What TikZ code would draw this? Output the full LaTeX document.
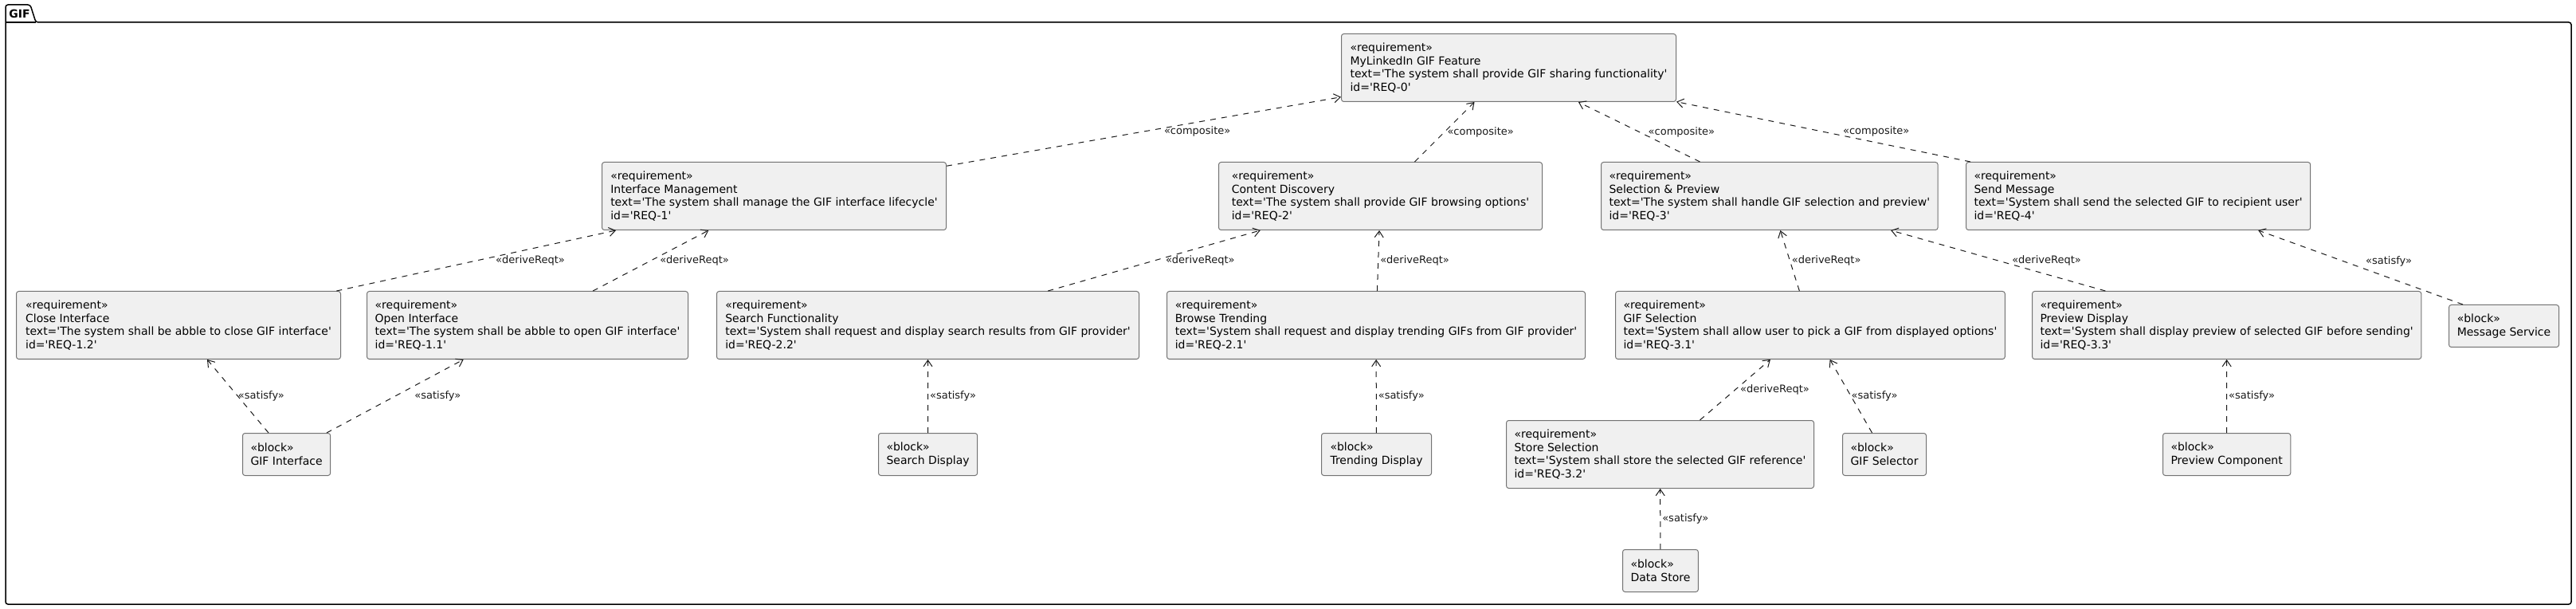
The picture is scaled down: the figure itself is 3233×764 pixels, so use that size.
\documentclass[tikz,border=0pt]{standalone}
\usepackage{fontspec}
\newfontfamily\umlfont{DejaVu Sans}
\usetikzlibrary{arrows.meta}

\begin{document}
\begin{tikzpicture}[x=0.5pt,y=-0.5pt,>={Straight Barb[length=4pt,width=5.5pt]},
	every node/.style={font=\umlfont\fontsize{7pt}{8.3pt}\selectfont},
	req/.style={draw=black!55,fill=black!6,line width=0.5pt,rounded corners=1.5pt,anchor=north west,align=left,minimum height=42.5pt,inner xsep=5pt},
	blk/.style={req,minimum height=26.5pt},
	dep/.style={->,dash pattern=on 3.5pt off 3.5pt,line width=0.5pt,black!90},
	lbl/.style={anchor=west,inner sep=0pt,font=\umlfont\fontsize{6.5pt}{7.8pt}\selectfont}]
	\useasboundingbox (0,0) rectangle (3233,764);
	
	\draw[line width=0.75pt,rounded corners=1.5pt] (7,28) -- (7,6) -- (38,6) -- (45,28) -- (3227,28) -- (3227,758) -- (7,758) -- cycle;
	\draw[line width=0.75pt] (7,28) -- (45,28);
	\node[anchor=west,inner sep=0pt,font=\umlfont\bfseries\fontsize{7pt}{8pt}\selectfont] (pkg) at (11,17) {GIF};
	
	\node[req,minimum width=210pt] (r0) at (1683,42) {«requirement»\\MyLinkedIn GIF Feature\\text='The system shall provide GIF sharing functionality'\\id='REQ-0'};
	
	\node[req,minimum width=216pt] (r1) at (755,203) {«requirement»\\Interface Management\\text='The system shall manage the GIF interface lifecycle'\\id='REQ-1'};
	\node[req,minimum width=203pt] (r2) at (1529,203) {«requirement»\\Content Discovery\\text='The system shall provide GIF browsing options'\\id='REQ-2'};
	\node[req,minimum width=211pt] (r3) at (2009,203) {«requirement»\\Selection \& Preview\\text='The system shall handle GIF selection and preview'\\id='REQ-3'};
	\node[req,minimum width=216pt] (r4) at (2467,203) {«requirement»\\Send Message\\text='System shall send the selected GIF to recipient user'\\id='REQ-4'};
	
	\node[req,minimum width=203.5pt] (r12) at (20,365) {«requirement»\\Close Interface\\text='The system shall be abble to close GIF interface'\\id='REQ-1.2'};
	\node[req,minimum width=201.5pt] (r11) at (460,365) {«requirement»\\Open Interface\\text='The system shall be abble to open GIF interface'\\id='REQ-1.1'};
	\node[req,minimum width=265pt] (r22) at (899,365) {«requirement»\\Search Functionality\\text='System shall request and display search results from GIF provider'\\id='REQ-2.2'};
	\node[req,minimum width=262.5pt] (r21) at (1464,365) {«requirement»\\Browse Trending\\text='System shall request and display trending GIFs from GIF provider'\\id='REQ-2.1'};
	\node[req,minimum width=243.5pt] (r31) at (2027,365) {«requirement»\\GIF Selection\\text='System shall allow user to pick a GIF from displayed options'\\id='REQ-3.1'};
	\node[req,minimum width=244pt] (r33) at (2550,365) {«requirement»\\Preview Display\\text='System shall display preview of selected GIF before sending'\\id='REQ-3.3'};
	\node[blk,minimum width=69pt] (bmsg) at (3073,382) {«block»\\Message Service};
	
	\node[blk,minimum width=55pt] (bgif) at (304,543) {«block»\\GIF Interface};
	\node[blk,minimum width=62pt] (bsearch) at (1102,543) {«block»\\Search Display};
	\node[blk,minimum width=69pt] (btrend) at (1658,543) {«block»\\Trending Display};
	\node[req,minimum width=193pt] (r32) at (1890,527) {«requirement»\\Store Selection\\text='System shall store the selected GIF reference'\\id='REQ-3.2'};
	\node[blk,minimum width=51.5pt] (bsel) at (2312,543) {«block»\\GIF Selector};
	\node[blk,minimum width=80pt] (bprev) at (2714,543) {«block»\\Preview Component};
	\node[blk,minimum width=47pt] (bstore) at (2036,689) {«block»\\Data Store};
	
	\draw[dep] (r1) -- node[lbl,xshift=12.5pt] {«composite»} (r0);
	\draw[dep] (r2) -- node[lbl,xshift=1.5pt] {«composite»} (r0);
	\draw[dep] (r3) -- node[lbl,xshift=5.5pt] {«composite»} (r0);
	\draw[dep] (r4) -- node[lbl,xshift=12pt] {«composite»} (r0);
	
	\draw[dep] (r12) -- node[lbl,xshift=12pt] {«deriveReqt»} (r1);
	\draw[dep] (r11) -- node[lbl,xshift=5.5pt] {«deriveReqt»} (r1);
	\draw[dep] (r22) -- node[lbl,xshift=7pt] {«deriveReqt»} (r2);
	\draw[dep] (r21) -- node[lbl,xshift=1pt] {«deriveReqt»} (r2);
	\draw[dep] (r31) -- node[lbl,xshift=1pt] {«deriveReqt»} (r3);
	\draw[dep] (r33) -- node[lbl,xshift=8.5pt] {«deriveReqt»} (r3);
	\draw[dep] ([xshift=9pt]bmsg.north west) -- node[lbl,xshift=3pt,yshift=4pt] {«satisfy»} ([xshift=-33pt]r4.south east);
	
	\draw[dep] (bgif) -- node[lbl] {«satisfy»} (r12);
	\draw[dep] (bgif) -- node[lbl,xshift=12pt] {«satisfy»} (r11);
	\draw[dep] (bsearch) -- node[lbl,xshift=1pt] {«satisfy»} (r22);
	\draw[dep] (btrend) -- node[lbl,xshift=1pt] {«satisfy»} (r21);
	\draw[dep] (r32) -- node[lbl,xshift=3pt] {«deriveReqt»} (r31);
	\draw[dep] (bsel) -- node[lbl] {«satisfy»} (r31);
	\draw[dep] (bprev) -- node[lbl,xshift=1pt] {«satisfy»} (r33);
	\draw[dep] (bstore) -- node[lbl,xshift=1pt] {«satisfy»} (r32);
\end{tikzpicture}
\end{document}
